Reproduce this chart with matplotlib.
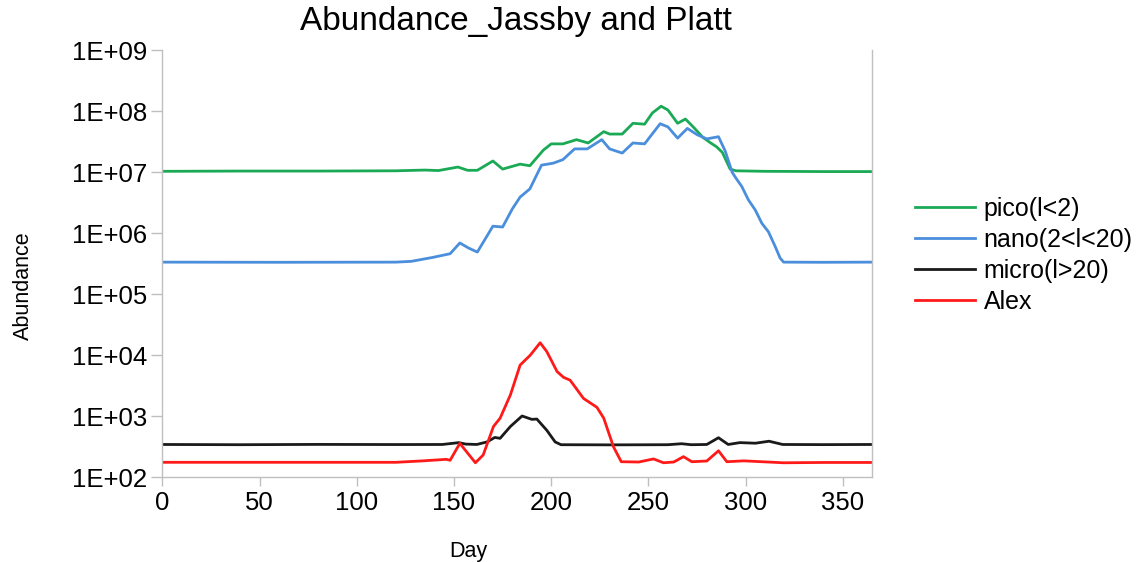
import math
import matplotlib
matplotlib.use("Agg")
import matplotlib.pyplot as plt
from matplotlib.ticker import FixedLocator, FuncFormatter, NullLocator

# ---- data -------------------------------------------------------------
pico_day = [0, 40, 80, 120, 135, 142, 152, 157, 162, 170, 175, 184, 189, 196,
            200, 206, 213, 219, 227, 230, 236.5, 242, 248, 252, 256.5, 260,
            265, 269, 273, 278, 282, 285, 288, 292, 295, 310, 340, 365]
pico_val = [1.03e7, 1.04e7, 1.04e7, 1.05e7, 1.08e7, 1.06e7, 1.21e7, 1.07e7,
            1.07e7, 1.52e7, 1.12e7, 1.35e7, 1.27e7, 2.3e7, 2.9e7, 2.9e7,
            3.4e7, 3.0e7, 4.6e7, 4.2e7, 4.2e7, 6.3e7, 6.1e7, 9.3e7, 1.2e8,
            1.04e8, 6.3e7, 7.4e7, 5.5e7, 3.7e7, 3.0e7, 2.6e7, 2.1e7, 1.12e7,
            1.05e7, 1.03e7, 1.02e7, 1.02e7]

nano_day = [0, 60, 120, 128, 139, 148, 153, 157.5, 162, 170, 175, 180, 184,
            189, 195, 201, 206, 212, 218.5, 226, 230, 236.5, 242, 248, 256,
            260, 265, 270, 275, 280, 286, 289.5, 293, 294.6, 298, 301.4,
            304.9, 308.3, 311.7, 315.2, 317.7, 319.5, 340, 365]
nano_val = [3.35e5, 3.33e5, 3.35e5, 3.45e5, 4.0e5, 4.6e5, 6.9e5, 5.7e5,
            4.9e5, 1.3e6, 1.26e6, 2.5e6, 3.9e6, 5.3e6, 1.3e7, 1.4e7, 1.6e7,
            2.4e7, 2.4e7, 3.4e7, 2.4e7, 2.05e7, 3.0e7, 2.9e7, 6.2e7, 5.5e7,
            3.6e7, 5.2e7, 4.1e7, 3.5e7, 3.8e7, 2.2e7, 1.0e7, 8.3e6, 5.8e6,
            3.5e6, 2.4e6, 1.45e6, 1.05e6, 6.0e5, 3.9e5, 3.35e5, 3.33e5, 3.35e5]

micro_day = [0, 40, 80, 120, 144, 152.5, 156, 161.7, 167, 171, 173.7, 179,
             185, 190, 192.6, 197.7, 202, 205, 230, 260, 267, 272, 280, 286,
             291, 297, 305, 312, 319, 340, 365]
micro_val = [345, 342, 346, 344, 345, 370, 350, 345, 380, 450, 435, 680,
             1010, 890, 900, 590, 380, 342, 340, 342, 355, 342, 345, 445,
             345, 370, 362, 390, 345, 343, 345]

alex_day = [0, 60, 120, 134, 146, 148, 153, 161, 165, 170.3, 173.7, 179,
            184, 189.2, 194.3, 197.7, 203, 206.3, 209.7, 216.6, 223.5, 227,
            232, 236, 245, 252.6, 257.7, 263, 268, 272.3, 280, 286, 290.3,
            299, 319.4, 340, 365]
alex_val = [176, 176, 176, 186, 197, 190, 360, 173, 232, 680, 930, 2240,
            6900, 1.0e4, 1.6e4, 1.15e4, 5400, 4350, 3900, 1960, 1400, 930,
            316, 180, 178, 200, 173, 178, 218, 180, 185, 272, 180, 186, 173,
            175, 175]

series_names = ["pico(l<2)", "nano(2<l<20)", "micro(l>20)", "Alex"]
series_colors = ["#1aaa55", "#4a8edc", "#1a1a1a", "#ff1a1a"]

decades = [2, 3, 4, 5, 6, 7, 8, 9]
day_ticks = [0, 50, 100, 150, 200, 250, 300, 350]

# ---- figure -----------------------------------------------------------
plt.rcParams["font.family"] = ["Liberation Sans", "DejaVu Sans"]

fig = plt.figure(figsize=(11.43, 5.62), dpi=100)
ax = fig.add_axes([0.142, 0.1507, 0.621, 0.7603])

for d, v, name, col in zip([pico_day, nano_day, micro_day, alex_day],
                           [pico_val, nano_val, micro_val, alex_val],
                           series_names, series_colors):
    ax.plot(d, v, color=col, lw=2.0, label=name, solid_joinstyle="round")

ax.set_yscale("log")
ax.set_ylim(1e2, 1e9)
ax.set_xlim(0, 365)

ax.yaxis.set_major_locator(FixedLocator([10.0 ** e for e in decades]))
ax.yaxis.set_minor_locator(NullLocator())
ax.yaxis.set_major_formatter(
    FuncFormatter(lambda v, p: "1E+%02d" % round(math.log10(v))))
ax.xaxis.set_major_locator(FixedLocator(day_ticks))

grey = "#bfbfbf"
for side in ("left", "bottom", "right"):
    ax.spines[side].set_color(grey)
    ax.spines[side].set_linewidth(1.0)
ax.spines["top"].set_visible(False)

ax.tick_params(axis="y", direction="out", length=8, width=1.0, color=grey,
               labelsize=18.5, pad=3)
ax.tick_params(axis="x", direction="out", length=6.5, width=1.0, color=grey,
               labelsize=18.5, pad=3)

ax.set_ylabel("Abundance", fontsize=15.5)
ax.yaxis.set_label_coords(-0.181, 0.448)
ax.set_xlabel("Day", fontsize=15.5)
ax.xaxis.set_label_coords(0.431, -0.149)

fig.text(0.4515, 0.961, "Abundance_Jassby and Platt", ha="center",
         va="center", fontsize=24)

fig.legend(loc="center left", bbox_to_anchor=(0.8005, 0.546), frameon=False,
           fontsize=18, handlelength=2.4, handletextpad=0.35,
           labelspacing=0.28, borderpad=0, borderaxespad=0)

fig.savefig("out.png", dpi=100)
